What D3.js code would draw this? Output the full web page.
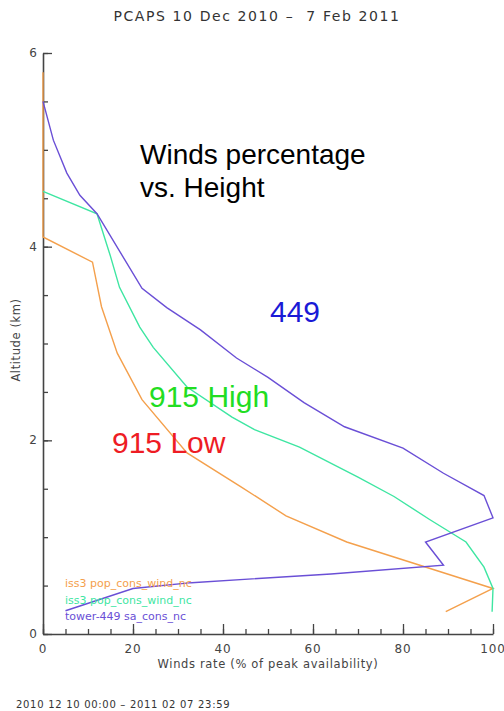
<!DOCTYPE html>
<html>
<head>
<meta charset="utf-8">
<script src="https://cdn.jsdelivr.net/npm/d3@7"></script>
<style>
  body { margin: 0; background: #fff; }
  svg { display: block; }
  text { white-space: pre; }
</style>
</head>
<body>
<div id="chart"></div>
<script>
// winds rate (% of peak availability) vs altitude (km)
var lowPts = [[0, 5.8], [0, 4.1], [11, 3.84], [13, 3.38], [16.5, 2.9], [22, 2.42],
  [32, 1.87], [44, 1.52], [54, 1.22], [67.5, 0.95], [100, 0.47], [89.5, 0.23]];
var highPts = [[0, 4.57], [12, 4.34], [15, 3.9], [17, 3.58], [21.5, 3.17], [24.5, 2.96],
  [32, 2.55], [42, 2.24], [47, 2.11], [57, 1.93], [70, 1.62], [78, 1.42], [86, 1.18],
  [94, 0.95], [98, 0.69], [100, 0.47], [99.8, 0.23]];
var towerPts = [[0, 5.5], [2.3, 5.1], [5.3, 4.76], [8.2, 4.53], [12, 4.34], [22, 3.57],
  [27.5, 3.37], [35, 3.14], [43, 2.85], [50, 2.65], [58, 2.39], [67, 2.14], [80, 1.92],
  [89, 1.66], [98, 1.43], [100, 1.2], [85, 0.95], [89, 0.71], [64, 0.62], [33, 0.53],
  [20, 0.47], [5, 0.24]];

var seriesNames = ['iss3 pop_cons_wind_nc', 'iss3 pop_cons_wind_nc', 'tower-449 sa_cons_nc'];
var seriesColors = ['#f4a04c', '#3ee6a2', '#6a4fd6'];
var xTicks = [0, 20, 40, 60, 80, 100];
var yTicks = [0, 2, 4, 6];

(function() {
  var width = 504, height = 711;
  var plotLeft = 43, plotRight = 493, plotTop = 53, plotBottom = 634;

  var svg = d3.select('#chart').append('svg')
    .attr('width', width)
    .attr('height', height);

  var x = d3.scaleLinear().domain([0, 100]).range([plotLeft, plotRight]);
  var y = d3.scaleLinear().domain([0, 6]).range([plotBottom, plotTop]);

  var axisColor = '#444';
  var tickFont = 'DejaVu Sans, sans-serif';

  // minor ticks first, then axes with major ticks
  svg.append('g')
    .attr('transform', 'translate(0,' + plotBottom + ')')
    .call(d3.axisTop(x).tickValues(d3.range(0, 101, 5)).tickSize(5).tickFormat(''))
    .call(function(g) { g.select('.domain').remove(); })
    .selectAll('line').attr('stroke', axisColor).attr('stroke-width', 1.3);

  svg.append('g')
    .attr('transform', 'translate(' + plotLeft + ',0)')
    .call(d3.axisRight(y).tickValues(d3.range(0, 6.01, 0.5)).tickSize(5).tickFormat(''))
    .call(function(g) { g.select('.domain').remove(); })
    .selectAll('line').attr('stroke', axisColor).attr('stroke-width', 1.3);

  var xAxis = svg.append('g')
    .attr('transform', 'translate(0,' + plotBottom + ')')
    .call(d3.axisTop(x).tickValues(xTicks).tickSize(10).tickSizeOuter(0).tickFormat(''));
  xAxis.select('.domain').attr('stroke', axisColor).attr('stroke-width', 1.6);
  xAxis.selectAll('line').attr('stroke', axisColor).attr('stroke-width', 1.3);

  var yAxis = svg.append('g')
    .attr('transform', 'translate(' + plotLeft + ',0)')
    .call(d3.axisRight(y).tickValues(yTicks).tickSize(9).tickSizeOuter(0).tickFormat(''));
  yAxis.select('.domain').attr('stroke', axisColor).attr('stroke-width', 1.6);
  yAxis.selectAll('line').attr('stroke', axisColor).attr('stroke-width', 1.3);

  // tick labels
  svg.selectAll('.xlab')
    .data(xTicks)
    .enter().append('text')
    .attr('class', 'xlab')
    .attr('x', function(d) { return x(d); })
    .attr('y', plotBottom + 19)
    .attr('text-anchor', 'middle')
    .style('font-family', tickFont)
    .style('font-size', '12px')
    .style('letter-spacing', '0.8px')
    .attr('fill', '#444')
    .text(function(d) { return d; });

  svg.selectAll('.ylab')
    .data(yTicks)
    .enter().append('text')
    .attr('class', 'ylab')
    .attr('x', plotLeft - 6)
    .attr('y', function(d) { return y(d) + 4; })
    .attr('text-anchor', 'end')
    .style('font-family', tickFont)
    .style('font-size', '12px')
    .attr('fill', '#444')
    .text(function(d) { return d; });

  // axis titles
  svg.append('text')
    .attr('x', (plotLeft + plotRight) / 2)
    .attr('y', 668)
    .attr('text-anchor', 'middle')
    .style('font-family', tickFont)
    .style('font-size', '11.5px')
    .style('letter-spacing', '0.65px')
    .attr('fill', '#444')
    .text('Winds rate (% of peak availability)');

  svg.append('text')
    .attr('transform', 'translate(20,340) rotate(-90)')
    .attr('text-anchor', 'middle')
    .style('font-family', tickFont)
    .style('font-size', '11.5px')
    .style('letter-spacing', '0.6px')
    .attr('fill', '#444')
    .text('Altitude (km)');

  svg.append('text')
    .attr('x', 257)
    .attr('y', 21)
    .attr('text-anchor', 'middle')
    .style('font-family', tickFont)
    .style('font-size', '14px')
    .style('letter-spacing', '1.6px')
    .attr('fill', '#333')
    .text('PCAPS 10 Dec 2010 \u2013  7 Feb 2011');

  svg.append('text')
    .attr('x', 16)
    .attr('y', 708)
    .style('font-family', tickFont)
    .style('font-size', '10px')
    .style('letter-spacing', '0.7px')
    .attr('fill', '#333')
    .text('2010 12 10 00:00 \u2013 2011 02 07 23:59');

  // series lines
  var line = d3.line()
    .x(function(d) { return x(d[0]); })
    .y(function(d) { return y(d[1]); });

  svg.selectAll('.series')
    .data([lowPts, highPts, towerPts])
    .enter().append('path')
    .attr('class', 'series')
    .attr('d', line)
    .attr('fill', 'none')
    .attr('stroke', function(d, i) { return seriesColors[i]; })
    .attr('stroke-width', 1.4);

  // legend
  svg.selectAll('.leg')
    .data(seriesNames)
    .enter().append('text')
    .attr('class', 'leg')
    .attr('x', 65)
    .attr('y', function(d, i) { return 587 + i * 16.5; })
    .style('font-family', tickFont)
    .style('font-size', '11px')
    .attr('fill', function(d, i) { return seriesColors[i]; })
    .text(function(d) { return d; });

  // annotations
  var big = 'Liberation Sans, Arial, sans-serif';
  var notes = [
    {t: 'Winds percentage', x: 140, y: 164, s: 28, c: '#000'},
    {t: 'vs. Height', x: 140, y: 197, s: 28, c: '#000'},
    {t: '449', x: 270, y: 322, s: 30, c: '#1a1ad6'},
    {t: '915 High', x: 149, y: 407, s: 30, c: '#22dd22'},
    {t: '915 Low', x: 112, y: 453, s: 30, c: '#ee1c24'}
  ];
  svg.selectAll('.note')
    .data(notes)
    .enter().append('text')
    .attr('class', 'note')
    .attr('x', function(d) { return d.x; })
    .attr('y', function(d) { return d.y; })
    .style('font-family', big)
    .style('font-size', function(d) { return d.s + 'px'; })
    .attr('fill', function(d) { return d.c; })
    .text(function(d) { return d.t; });
})();
</script>
</body>
</html>
